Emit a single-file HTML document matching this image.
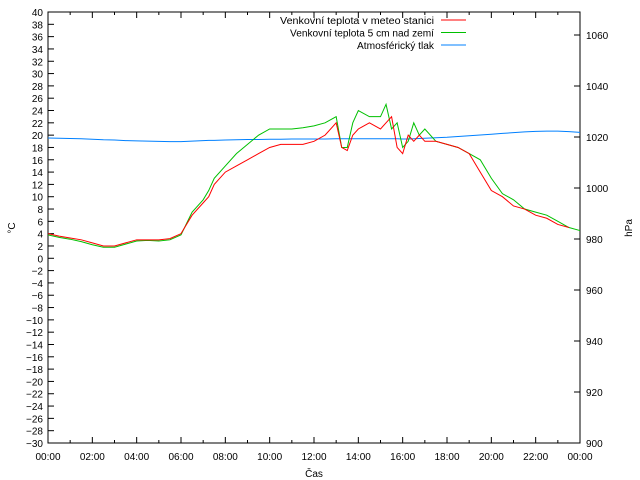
<!DOCTYPE html>
<html><head><meta charset="utf-8"><style>
body{margin:0;background:#fff}
svg{display:block;font-family:"Liberation Sans",sans-serif;font-size:10px}
</style></head><body>
<svg id="c" width="640" height="480"></svg>
<script>
const hours=[0,0.5,1,1.5,2,2.5,3,3.5,4,4.5,5,5.5,6,6.5,7,7.25,7.5,8,8.5,9,9.5,10,10.5,11,11.5,12,12.5,13,13.25,13.5,13.75,14,14.5,15,15.25,15.5,15.75,16,16.25,16.5,16.75,17,17.5,18,18.5,19,19.5,20,20.5,21,21.5,22,22.5,23,23.5,24];
const airTemp=[4,3.6,3.3,3,2.5,2,2,2.5,3,3,3,3.2,4,7,9,10,12,14,15,16,17,18,18.5,18.5,18.5,19,20,22,18,17.5,20,21,22,21,22,23,18,17,20,19,20,19,19,18.5,18,17,14,11,10,8.5,8,7,6.5,5.5,5];
const groundTemp=[3.8,3.4,3.1,2.7,2.2,1.8,1.8,2.3,2.8,2.9,2.8,3,3.8,7.5,9.5,11,13,15,17,18.5,20,21,21,21,21.2,21.5,22,23,18,18,22,24,23,23,25,21,22,18,19,22,20,21,19,18.5,18,17,16,13,10.5,9.5,8,7.5,7,6,5,4.5];
const pressure=[1019.6,1019.5,1019.4,1019.3,1019.1,1018.9,1018.8,1018.6,1018.5,1018.4,1018.3,1018.2,1018.2,1018.4,1018.6,1018.7,1018.7,1018.8,1018.9,1019,1019,1019.1,1019.1,1019.2,1019.2,1019.2,1019.2,1019.3,1019.3,1019.3,1019.3,1019.3,1019.3,1019.3,1019.3,1019.3,1019.3,1019.2,1019.2,1019.3,1019.4,1019.5,1019.7,1019.9,1020.2,1020.5,1020.8,1021.1,1021.4,1021.7,1022,1022.2,1022.3,1022.3,1022.1,1021.8];
const yTicks=[];for(let v=-30;v<=40;v+=2)yTicks.push(v);
const y2Ticks=[900,920,940,960,980,1000,1020,1040,1060];
const xLabels=["00:00","02:00","04:00","06:00","08:00","10:00","12:00","14:00","16:00","18:00","20:00","22:00","00:00"];
const L=48,R=580,T=12,B=443;
const X=h=>L+(R-L)*h/24;
const Y=v=>B-(B-T)*(v+30)/70;
const Y2=p=>B-(p-900)*51/20;
const s=document.getElementById('c');
function el(tag,a,txt){const e=document.createElementNS('http://www.w3.org/2000/svg',tag);for(const k in a)e.setAttribute(k,a[k]);if(txt!==undefined)e.textContent=txt;s.appendChild(e);return e;}
yTicks.forEach(v=>{
 const t=el('line',{x1:L,x2:L+6,y1:Y(v),y2:Y(v),stroke:'#000'});
 
 
 const lb=el('text',{x:L-5,y:Y(v)+4,'text-anchor':'end'},String(v).replace('-','−'));
 
 
});
y2Ticks.forEach(p=>{
 const t=el('line',{x1:R-6,x2:R,y1:Y2(p),y2:Y2(p),stroke:'#000'});
 
 
 const lb=el('text',{x:R+6,y:Y2(p)+4},String(p));
 
 
});
for(let h=0;h<=24;h++){
 const len=h%2?3:6;
 const a=el('line',{x1:X(h),x2:X(h),y1:B,y2:B-len,stroke:'#000'});
 
 
 const b=el('line',{x1:X(h),x2:X(h),y1:T,y2:T+len,stroke:'#000'});
 
 
}
xLabels.forEach((t,i)=>{
 const lb=el('text',{x:X(i*2),y:B+17,'text-anchor':'middle'},t);
 
 
});
const fr=el('rect',{x:L,y:T,width:R-L,height:B-T,fill:'none',stroke:'#000'});


function series(vals,fy,col,name){
 const p=el('polyline',{points:hours.map((h,i)=>X(h)+','+fy(vals[i])).join(' '),fill:'none',stroke:col,'stroke-width':1});
 
 
}
series(pressure,Y2,'#0080ff','pressure-line');
series(groundTemp,Y,'#00c000','ground-temp-line');
series(airTemp,Y,'#ff0000','air-temp-line');
const leg=[["Venkovní teplota v meteo stanici",'#ff0000',154],["Venkovní teplota 5 cm nad zemí",'#00c000',144],["Atmosférický tlak",'#0080ff',77]];
leg.forEach((l,i)=>{
 const y=20+i*12.5;
 const t=el('text',{x:434-l[2],y:y+4,textLength:l[2],lengthAdjust:'spacingAndGlyphs'},l[0]);
 
 
 const ln=el('line',{x1:441,x2:466,y1:y,y2:y,stroke:l[1]});
 
 
});
const yt=el('text',{x:0,y:0,transform:'translate(15,228) rotate(-90)','text-anchor':'middle'},'°C');


const y2t=el('text',{x:0,y:0,transform:'translate(632,228) rotate(-90)','text-anchor':'middle'},'hPa');


const xt=el('text',{x:314,y:477,'text-anchor':'middle'},'Čas');


</script>
</body></html>
